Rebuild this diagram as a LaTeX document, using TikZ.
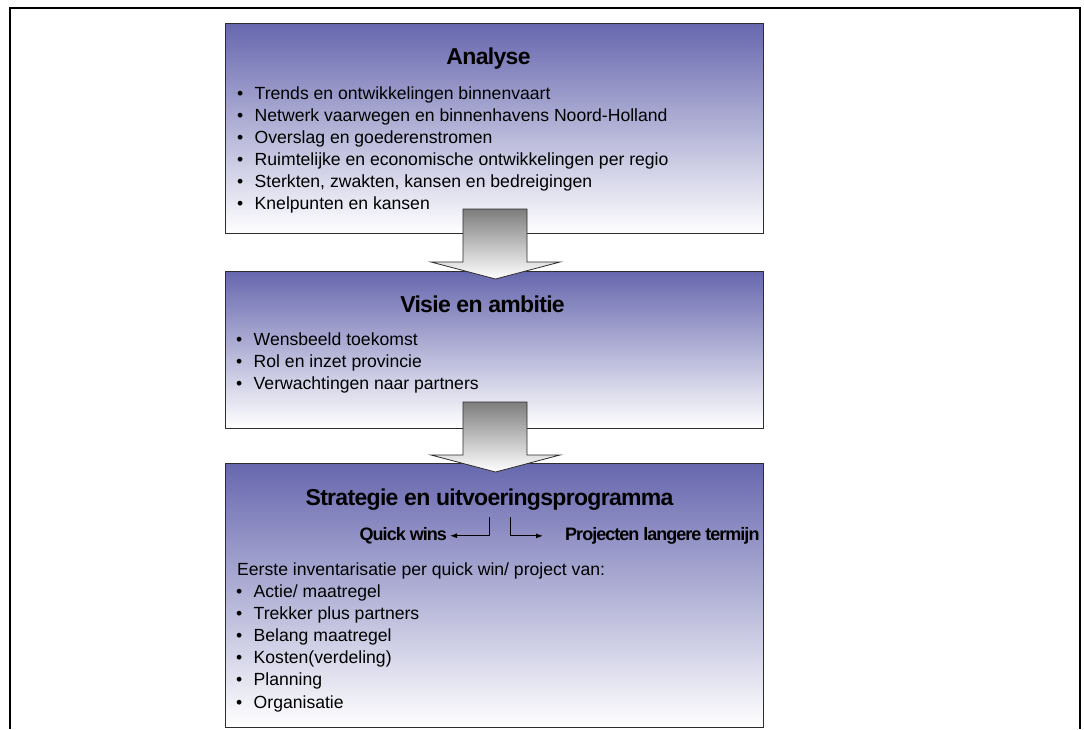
\documentclass[tikz,border=0pt]{standalone}
\usepackage{fontspec}
\setmainfont{Liberation Sans}
\newfontfamily\titlefont{Liberation Sans}[LetterSpace=-3]
\newfontfamily\subfont{Liberation Sans}[LetterSpace=-5.5]
\usetikzlibrary{arrows.meta}
\definecolor{boxtop}{RGB}{103,103,175}
\definecolor{boxedge}{RGB}{45,45,45}
\definecolor{arrtop}{RGB}{125,125,125}
\begin{document}
\begin{tikzpicture}[x=1pt,y=-1pt,
  panel/.style={draw=boxedge, line width=1.1pt, top color=boxtop, bottom color=white,
    anchor=north west, inner sep=0pt, minimum width=538pt},
  boxtitle/.style={font=\titlefont\fontsize{23}{27}\selectfont\bfseries, anchor=base, inner sep=0pt},
  item/.style={font=\fontsize{17.6}{21}\selectfont, anchor=base west, inner sep=0pt},
  subhead/.style={font=\subfont\fontsize{18}{21}\selectfont\bfseries, inner sep=0pt},
  blockarrow/.style={draw=boxedge, line width=0.8pt, top color=arrtop, bottom color=white},
  smallarrow/.style={draw=black, line width=0.9pt, -{Latex[length=7pt,width=5pt]}},
  frameline/.style={draw=black, line width=2pt}]
\useasboundingbox (0,0) rectangle (1084,729);
\fill[white] (0,0) rectangle (1084,729);
% outer frame (open at the bottom)
\draw[frameline] (10,729) -- (10,8) -- (1080,8) -- (1080,729);

% panels
\node[panel, minimum height=210pt] (analyse) at (225,23) {};
\node[panel, minimum height=157pt] (visie) at (225,271) {};
\node[panel, minimum height=264pt] (strategie) at (225,463) {};

% titles
\node[boxtitle] (t1) at (488.5,64) {Analyse};
\node[boxtitle] (t2) at (482.5,312) {Visie en ambitie};
\node[boxtitle] (t3) at (489.5,505) {Strategie en uitvoeringsprogramma};

% Analyse items
\foreach \t [count=\i, evaluate=\i as \yy using 99.3+22.1*(\i-1)] in
  {Trends en ontwikkelingen binnenvaart,
   Netwerk vaarwegen en binnenhavens Noord-Holland,
   Overslag en goederenstromen,
   Ruimtelijke en economische ontwikkelingen per regio,
   {Sterkten, zwakten, kansen en bedreigingen},
   Knelpunten en kansen}
  \node[item] (a\i) at (237,\yy) {\makebox[17.5pt][l]{\textbullet}\t};

% Visie items
\foreach \t [count=\i, evaluate=\i as \yy using 345+22*(\i-1)] in
  {Wensbeeld toekomst, Rol en inzet provincie, Verwachtingen naar partners}
  \node[item] (v\i) at (236,\yy) {\makebox[17.5pt][l]{\textbullet}\t};

% Strategie content
\node[subhead, anchor=base east] (qw) at (447,540.5) {Quick wins};
\node[subhead, anchor=base west] (pl) at (565,540.5) {Projecten langere termijn};
\coordinate (qs) at (489,517);
\coordinate (ps) at (510,517);
\draw[smallarrow] (qs) |- ([xshift=3pt]qw.east);
\draw[smallarrow] (ps) |- ([xshift=-22pt]pl.west);

\node[item] (eerste) at (237,575.5) {Eerste inventarisatie per quick win/ project van:};
\foreach \t [count=\i, evaluate=\i as \yy using 597+22.2*(\i-1)] in
  {Actie/ maatregel, Trekker plus partners, Belang maatregel,
   Kosten(verdeling), Planning, Organisatie}
  \node[item] (s\i) at (236,\yy) {\makebox[17.5pt][l]{\textbullet}\t};

% block arrows between panels
\draw[blockarrow] (463,209) -- (527,209) -- (527,262) -- (560,262) -- (495.5,279)
  -- (431,262) -- (463,262) -- cycle;
\draw[blockarrow] (463,402) -- (527,402) -- (527,455) -- (560,455) -- (495.5,472)
  -- (431,455) -- (463,455) -- cycle;
\end{tikzpicture}
\end{document}
